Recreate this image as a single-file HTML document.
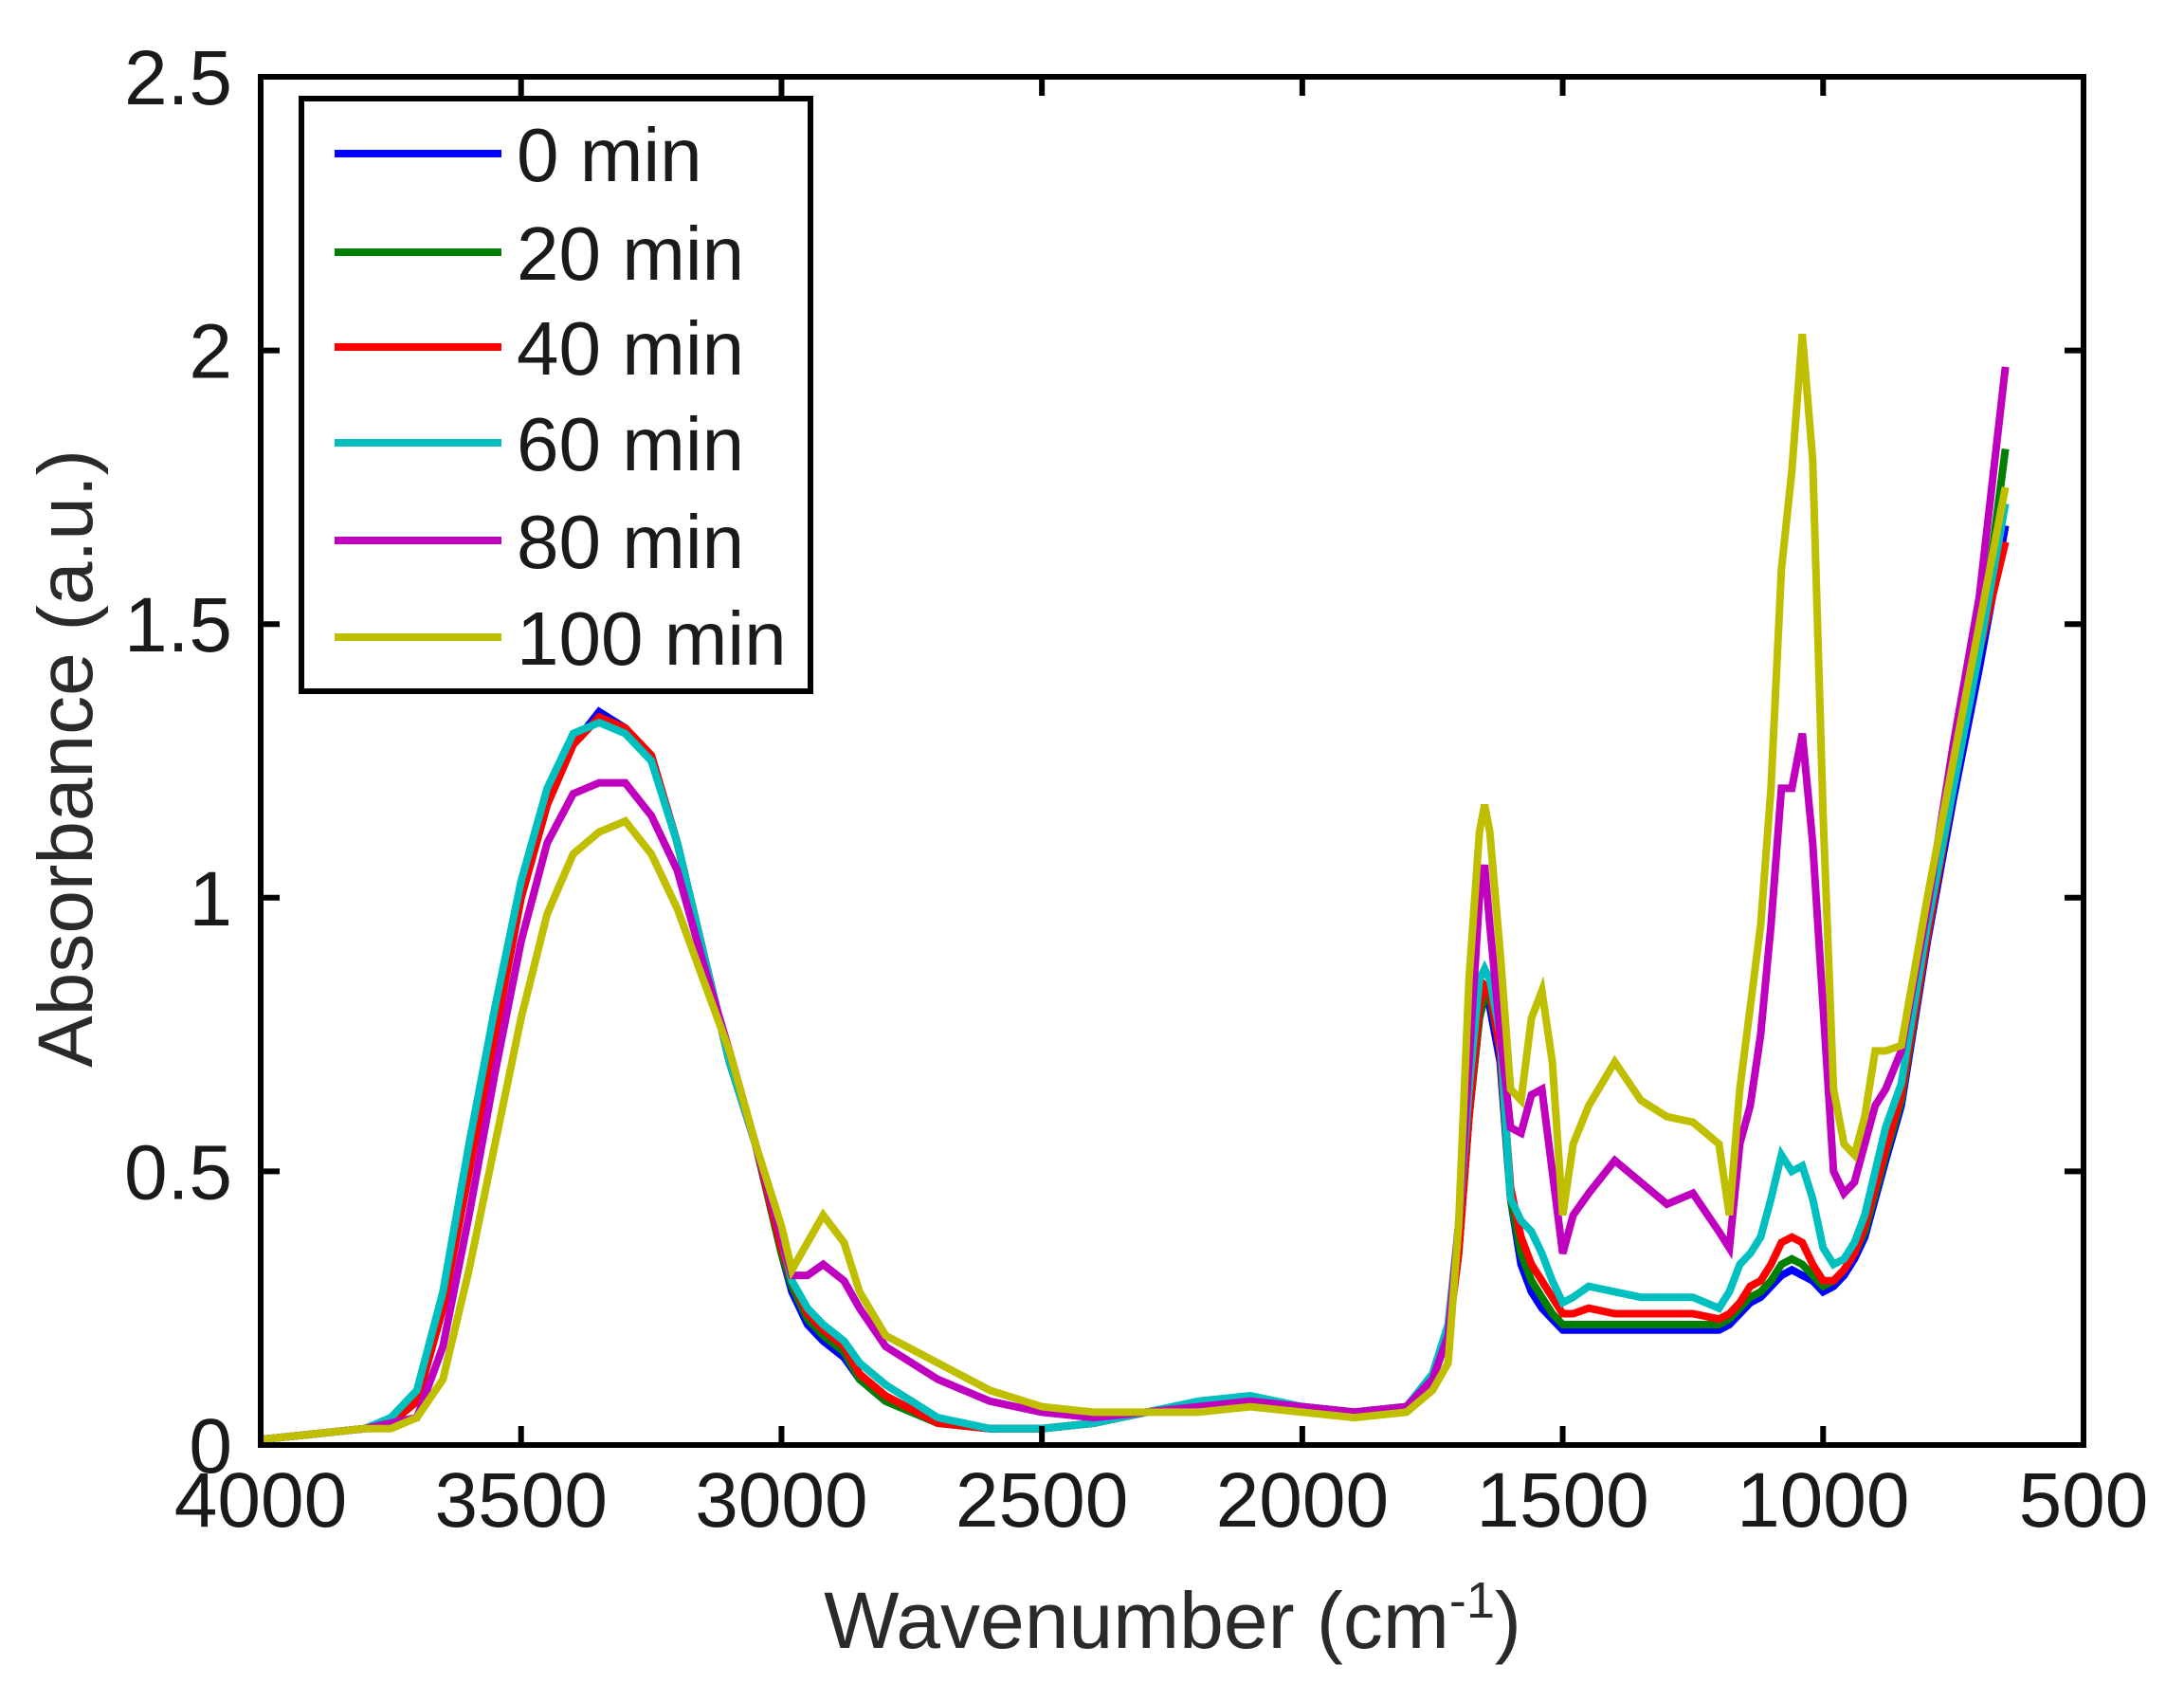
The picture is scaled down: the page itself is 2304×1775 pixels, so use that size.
<!DOCTYPE html>
<html><head><meta charset="utf-8"><style>
html,body{margin:0;padding:0;background:#fff;}
svg{display:block;font-family:"Liberation Sans",Arial,sans-serif;}
</style></head><body>
<svg id="chart" width="2304" height="1775" viewBox="0 0 2304 1775" xmlns="http://www.w3.org/2000/svg">
<rect x="0" y="0" width="2304" height="1775" fill="#fff"/>
<g id="series"></g>
<g id="axes"></g>
<g id="legend"></g>
</svg>
<script>
const wavenumbers = [4000,3900,3800,3750,3700,3650,3600,3550,3500,3450,3400,3350,3300,3250,3200,3150,3100,3050,3000,2980,2950,2920,2880,2850,2800,2700,2600,2500,2400,2300,2200,2100,2000,1900,1800,1750,1720,1700,1680,1660,1650,1640,1620,1600,1580,1560,1540,1520,1500,1480,1450,1400,1350,1300,1250,1200,1180,1160,1140,1120,1100,1080,1060,1040,1020,1000,980,960,940,920,900,880,850,800,750,700,650];
const seriesNames = ["0 min","20 min","40 min","60 min","80 min","100 min"];
const s0 = [0.01,0.02,0.03,0.04,0.08,0.25,0.5,0.75,1.0,1.17,1.28,1.34,1.31,1.26,1.1,0.9,0.7,0.55,0.35,
0.28,0.22,0.19,0.16,0.12,0.08,
0.04,0.03,0.03,0.04,0.06,0.07,0.08,0.07,0.06,0.07,
0.12,0.2,0.35,0.6,0.78,0.82,0.8,0.7,0.45,
0.33,0.28,0.25,0.23,0.21,0.21,0.21,0.21,0.21,0.21,0.21,0.21,
0.22,0.24,0.26,0.27,0.29,0.31,0.32,0.31,0.3,0.28,
0.29,0.31,0.34,0.38,0.45,0.52,0.62,0.92,1.18,1.42,1.68];
const s20 = [0.01,0.02,0.03,0.04,0.08,0.25,0.5,0.75,1.0,1.17,1.28,1.33,1.31,1.26,1.1,0.9,0.7,0.55,0.35,
0.29,0.23,0.2,0.17,0.12,0.08,
0.04,0.03,0.03,0.04,0.06,0.07,0.08,0.07,0.06,0.07,
0.12,0.2,0.35,0.6,0.78,0.82,0.82,0.72,0.45,
0.35,0.3,0.27,0.24,0.22,0.22,0.22,0.22,0.22,0.22,0.22,0.22,
0.23,0.25,0.27,0.28,0.3,0.33,0.34,0.33,0.31,0.29,
0.3,0.32,0.35,0.39,0.46,0.53,0.63,0.93,1.2,1.45,1.82];
const s40 = [0.01,0.02,0.03,0.04,0.08,0.25,0.5,0.75,1.0,1.17,1.28,1.33,1.31,1.26,1.1,0.9,0.7,0.55,0.36,
0.3,0.24,0.21,0.18,0.13,0.09,
0.04,0.03,0.03,0.04,0.06,0.07,0.08,0.07,0.06,0.07,
0.12,0.2,0.35,0.6,0.8,0.84,0.83,0.72,0.47,
0.38,0.33,0.3,0.27,0.24,0.24,0.25,0.24,0.24,0.24,0.24,0.23,
0.24,0.26,0.29,0.3,0.33,0.37,0.38,0.37,0.33,0.3,
0.3,0.32,0.35,0.4,0.47,0.54,0.64,0.93,1.2,1.45,1.65];
const s60 = [0.01,0.02,0.03,0.05,0.1,0.28,0.55,0.8,1.03,1.2,1.3,1.32,1.3,1.25,1.1,0.9,0.7,0.55,0.38,
0.3,0.25,0.22,0.19,0.15,0.11,
0.05,0.03,0.03,0.04,0.06,0.08,0.09,0.07,0.06,0.07,
0.13,0.22,0.4,0.65,0.85,0.87,0.85,0.75,0.45,
0.41,0.39,0.35,0.3,0.26,0.27,0.29,0.28,0.27,0.27,0.27,0.25,
0.28,0.33,0.35,0.38,0.45,0.53,0.5,0.51,0.45,0.36,
0.33,0.34,0.37,0.42,0.5,0.58,0.66,0.95,1.2,1.45,1.72];
const s80 = [0.01,0.02,0.03,0.04,0.05,0.18,0.42,0.68,0.92,1.1,1.19,1.21,1.21,1.15,1.05,0.88,0.72,0.55,0.38,
0.31,0.31,0.33,0.3,0.25,0.18,
0.12,0.08,0.06,0.05,0.06,0.07,0.08,0.07,0.06,0.07,
0.12,0.2,0.4,0.7,1.0,1.06,0.95,0.75,0.58,
0.57,0.64,0.65,0.5,0.35,0.42,0.46,0.52,0.48,0.44,0.46,0.39,
0.36,0.55,0.62,0.75,0.95,1.2,1.2,1.3,1.1,0.8,
0.5,0.46,0.48,0.55,0.62,0.65,0.72,0.98,1.28,1.55,1.97];
const s100 = [0.01,0.02,0.03,0.03,0.05,0.12,0.32,0.55,0.78,0.97,1.08,1.12,1.14,1.08,0.98,0.85,0.72,0.55,0.4,
0.32,0.37,0.42,0.37,0.28,0.2,
0.15,0.1,0.07,0.06,0.06,0.06,0.07,0.06,0.05,0.06,
0.1,0.15,0.4,0.85,1.12,1.17,1.12,0.9,0.65,
0.63,0.78,0.83,0.7,0.42,0.55,0.62,0.7,0.63,0.6,0.59,0.55,
0.42,0.65,0.8,0.95,1.2,1.6,1.78,2.03,1.8,1.15,
0.65,0.55,0.53,0.6,0.72,0.72,0.73,1.0,1.25,1.5,1.75];
const xTicks = [4000,3500,3000,2500,2000,1500,1000,500];
const yTicks = [0,0.5,1,1.5,2,2.5];
const yTickLabels = ["0","0.5","1","1.5","2","2.5"];

const allSeries = [s0,s20,s40,s60,s80,s100];
const colors = ["#0000ff","#007f00","#ff0000","#00bfbf","#bf00bf","#bfbf00"];
const L=275,R=2198,T=81,B=1524;
function xs(w){return L+(4000-w)/3500*(R-L);}
function ys(v){return B-v/2.5*(B-T);}
const NS="http://www.w3.org/2000/svg";
function mk(tag,attrs,parent){const e=document.createElementNS(NS,tag);for(const k in attrs)e.setAttribute(k,attrs[k]);parent.appendChild(e);return e;}

const sg=document.getElementById('series');
allSeries.forEach((arr,i)=>{
  const d=arr.map((v,j)=>(j?'L':'M')+xs(wavenumbers[j]).toFixed(1)+' '+ys(v).toFixed(1)).join(' ');
  const p=mk('path',{d:d,fill:'none',stroke:colors[i],'stroke-width':8,'stroke-linejoin':'miter'},sg);
  
  
});

const ax=document.getElementById('axes');
const frame=mk('rect',{x:L,y:T,width:R-L,height:B-T,fill:'none',stroke:'#000','stroke-width':6},ax);


xTicks.forEach(w=>{
  const x=xs(w);
  mk('line',{x1:x,y1:B,x2:x,y2:B-20,stroke:'#000','stroke-width':6},ax);
  mk('line',{x1:x,y1:T,x2:x,y2:T+20,stroke:'#000','stroke-width':6},ax);
  const t=mk('text',{x:x,y:1610,'text-anchor':'middle','font-size':82,fill:'#1a1a1a'},ax);
  t.textContent=String(w);
  
  
});
yTicks.forEach((v,i)=>{
  const y=ys(v);
  mk('line',{x1:L,y1:y,x2:L+20,y2:y,stroke:'#000','stroke-width':6},ax);
  mk('line',{x1:R,y1:y,x2:R-20,y2:y,stroke:'#000','stroke-width':6},ax);
  const t=mk('text',{x:245,y:y+29,'text-anchor':'end','font-size':82,fill:'#1a1a1a'},ax);
  t.textContent=yTickLabels[i];
  
  
});
const xt=mk('text',{x:1237,y:1738,'text-anchor':'middle','font-size':84,fill:'#2a2a2a'},ax);
xt.innerHTML='Wavenumber (cm<tspan dy="-32" font-size="54">-1</tspan><tspan dy="32">)</tspan>';


const yt=mk('text',{x:0,y:0,'text-anchor':'middle','font-size':82,fill:'#2a2a2a',transform:'translate(97,800) rotate(-90)'},ax);
yt.textContent='Absorbance (a.u.)';



const lg=document.getElementById('legend');
const box=mk('rect',{x:318,y:104,width:537,height:625,fill:'#fff',stroke:'#000','stroke-width':6},lg);


const ly=[162,266,366,467,570,672];
seriesNames.forEach((n,i)=>{
  const g=mk('g',{},lg);
  
  
  mk('line',{x1:353,y1:ly[i],x2:529,y2:ly[i],stroke:colors[i],'stroke-width':8},g);
  const t=mk('text',{x:545,y:ly[i]+29,'font-size':80,fill:'#1a1a1a'},g);
  t.textContent=n;
});
</script>
</body></html>
